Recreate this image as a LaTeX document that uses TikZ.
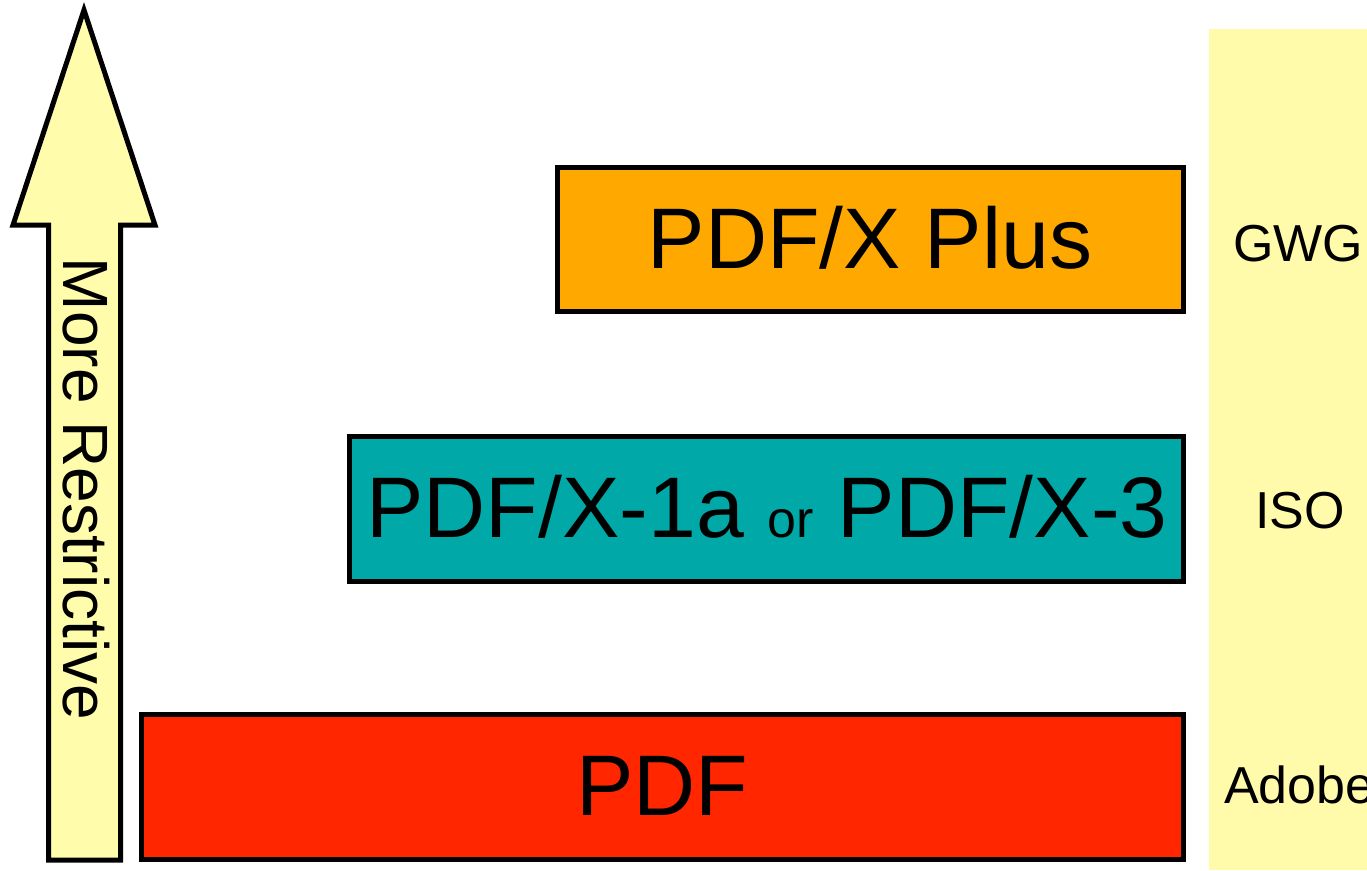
\documentclass[tikz,border=0pt]{standalone}
\usepackage{fontspec}
\setmainfont{Liberation Sans}
\definecolor{stripyellow}{HTML}{FFFBAA}
\definecolor{arrowyellow}{HTML}{FFFCAC}
\definecolor{plusorange}{HTML}{FFA800}
\definecolor{isoteal}{HTML}{00A8A8}
\definecolor{pdfred}{HTML}{FF2600}
\begin{document}
\begin{tikzpicture}[x=1pt,y=-1pt,
  levelbox/.style={draw=black,line width=5pt},
  bigtext/.style={font=\fontsize{86}{86}\selectfont,inner sep=0pt,anchor=base},
  sidetext/.style={font=\fontsize{52}{52}\selectfont,inner sep=0pt},
]
\useasboundingbox (0,0) rectangle (1367,870);
% right strip
\fill[stripyellow] (1209,29) rectangle (1367,870);
% arrow
\draw[fill=arrowyellow,line width=5pt,line join=miter]
  (84,10) -- (155,225) -- (120.5,225) -- (120.5,860) -- (48.5,860) -- (48.5,225) -- (13,225) -- cycle;
\node[font=\fontsize{64}{64}\selectfont,rotate=-90,inner sep=0pt] (more) at (86,489) {More Restrictive};
% boxes
\draw[levelbox,fill=plusorange] (557,167) rectangle (1183,311);
\draw[levelbox,fill=isoteal] (349.5,436.5) rectangle (1183,581.5);
\draw[levelbox,fill=pdfred] (141,714.5) rectangle (1183,859);
\node[bigtext] (plus) at (870,268) {PDF/X Plus};
\node[bigtext] (iso) at (767,537) {PDF/X-1a {\fontsize{52}{52}\selectfont or} PDF/X-3};
\node[bigtext] (pdf) at (662,815) {PDF};
% side labels
\node[sidetext,anchor=base] (gwg) at (1298,261) {GWG};
\node[sidetext,anchor=base] (isol) at (1300,528) {ISO};
\node[sidetext,anchor=base west] (adobe) at (1224,803) {Adobe};
\end{tikzpicture}
\end{document}
